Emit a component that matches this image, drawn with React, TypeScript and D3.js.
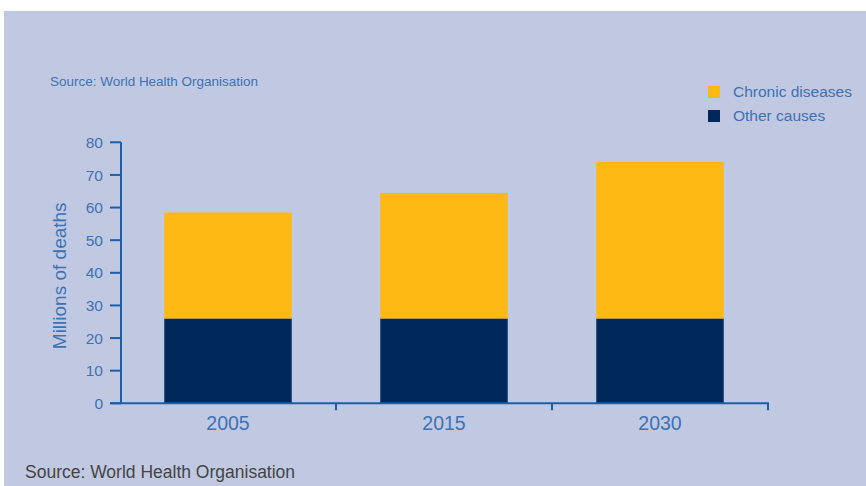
import * as d3 from 'd3'

const YEARS = ['2005', '2015', '2030']
const OTHER = [26, 26, 26]
const CHRONIC = [32.5, 38.5, 48]
const Y_TICKS = [0, 10, 20, 30, 40, 50, 60, 70, 80]
const LEGEND = [
  { key: 'chronic', label: 'Chronic diseases', color: '#fdb913' },
  { key: 'other', label: 'Other causes', color: '#00285a' },
]

const W = 866
const H = 486
const AXIS = '#1d5ea8'
const TEXT = '#3d72b4'
const FONT = '"Liberation Sans", Arial, sans-serif'

export default function App() {
  const x = d3.scaleBand<string>().domain(YEARS).range([120, 768]).paddingInner(0.41).paddingOuter(0.205)
  const y = d3.scaleLinear().domain([0, 80]).range([403.3, 142.3])

  const rows = YEARS.map((yr, i) => ({ year: yr, other: OTHER[i], chronic: CHRONIC[i] }))
  const stacked = d3.stack<any>().keys(['other', 'chronic'])(rows)
  const colorOf: Record<string, string> = { other: '#00285a', chronic: '#fdb913' }

  // boundaries between categories on x axis
  const step = x.step()
  const bounds = YEARS.map((d) => (x(d) as number) + x.bandwidth() / 2 + step / 2)

  return (
    <svg
      width={W}
      height={H}
      style={{ position: 'absolute', left: 0, top: 0, display: 'block', fontFamily: FONT }}
    >
      <rect x={4} y={11} width={W - 4} height={H - 11} fill="#c1c9e2" />

      <text x={50} y={86} fontSize={13.5} fill={TEXT} textLength={208} lengthAdjust="spacingAndGlyphs">
        Source: World Health Organisation
      </text>

      {/* legend */}
      {LEGEND.map((l, i) => (
        <g key={l.key} transform={`translate(708, ${86 + i * 24})`}>
          <rect width={12} height={12} fill={l.color} />
          <text x={25} y={11} fontSize={15.5} fill={TEXT}>
            {l.label}
          </text>
        </g>
      ))}

      {/* bars */}
      {stacked.map((s) => (
        <g key={s.key} fill={colorOf[s.key]}>
          {s.map((d, i) => (
            <rect
              key={YEARS[i]}
              x={x(YEARS[i])}
              y={y(d[1])}
              width={x.bandwidth()}
              height={y(d[0]) - y(d[1])}
            />
          ))}
        </g>
      ))}

      {/* y axis */}
      <line x1={121} x2={121} y1={y(80)} y2={y(0)} stroke={AXIS} strokeWidth={2} />
      {Y_TICKS.map((t) => (
        <g key={t}>
          <line x1={110} x2={121} y1={y(t)} y2={y(t)} stroke={AXIS} strokeWidth={2} />
          <text x={103} y={y(t)} dy="0.36em" textAnchor="end" fontSize={15.5} fill={TEXT}>
            {t}
          </text>
        </g>
      ))}
      <text
        transform={`translate(66, ${(y(0) + y(80)) / 2 + 3}) rotate(-90)`}
        textAnchor="middle"
        fontSize={19}
        fill={TEXT}
      >
        Millions of deaths
      </text>

      {/* x axis */}
      <line x1={110} x2={769} y1={y(0)} y2={y(0)} stroke={AXIS} strokeWidth={2} />
      {bounds.map((b, i) => (
        <line key={i} x1={b} x2={b} y1={y(0)} y2={y(0) + 7} stroke={AXIS} strokeWidth={2} />
      ))}
      {YEARS.map((yr) => (
        <text
          key={yr}
          x={(x(yr) as number) + x.bandwidth() / 2}
          y={430}
          textAnchor="middle"
          fontSize={19.5}
          fill={TEXT}
        >
          {yr}
        </text>
      ))}

      <text x={25} y={478} fontSize={17.5} fill="#444">
        Source: World Health Organisation
      </text>
    </svg>
  )
}
